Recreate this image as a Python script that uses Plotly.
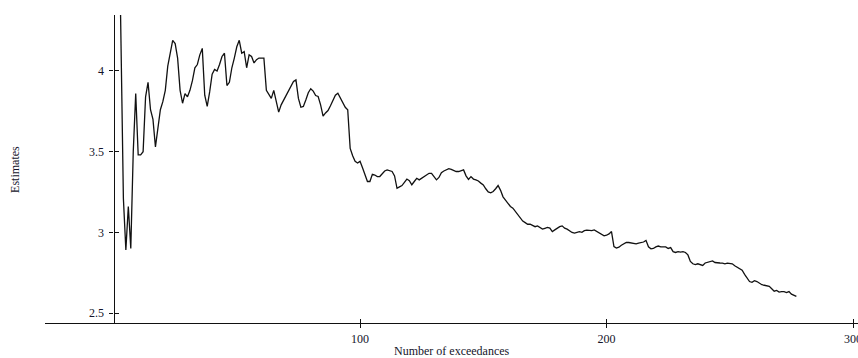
import plotly.graph_objects as go

# Hill-type estimates vs number of exceedances
k_values = list(range(2, 278))
estimates = [
    5.2, 4.17, 3.21, 2.89, 3.16, 2.90, 3.50, 3.86, 3.48,            # 2-10
    3.48, 3.50, 3.84, 3.93, 3.76, 3.70, 3.53, 3.66, 3.76, 3.81,      # 11-20
    3.88, 4.03, 4.10, 4.19, 4.17, 4.08, 3.88, 3.80, 3.86, 3.84,      # 21-30
    3.88, 3.94, 4.02, 4.04, 4.10, 4.14, 3.85, 3.78, 3.87, 3.98,      # 31-40
    4.01, 4.00, 4.04, 4.09, 4.11, 3.91, 3.93, 4.02, 4.08, 4.15,      # 41-50
    4.19, 4.11, 4.12, 4.02, 4.10, 4.09, 4.05, 4.07, 4.08, 4.08,      # 51-60
    4.08, 3.88, 3.85, 3.83, 3.88, 3.82, 3.745, 3.79, 3.82, 3.85,     # 61-70
    3.88, 3.91, 3.935, 3.945, 3.83, 3.775, 3.78, 3.82, 3.865, 3.89,  # 71-80
    3.875, 3.848, 3.842, 3.79, 3.72, 3.74, 3.755, 3.785, 3.815, 3.85,  # 81-90
    3.862, 3.835, 3.805, 3.775, 3.76, 3.52, 3.475, 3.44, 3.43, 3.44,   # 91-100
    3.40, 3.35, 3.315, 3.315, 3.36, 3.355, 3.345, 3.346, 3.36, 3.38,   # 101-110
    3.387, 3.38, 3.377, 3.35, 3.273, 3.282, 3.29, 3.31, 3.33, 3.32,    # 111-120
    3.295, 3.315, 3.335, 3.325, 3.335, 3.345, 3.355, 3.366, 3.366, 3.346,  # 121-130
    3.325, 3.34, 3.37, 3.38, 3.387, 3.395, 3.39, 3.385, 3.377, 3.377,  # 131-140
    3.38, 3.387, 3.35, 3.328, 3.345, 3.33, 3.325, 3.318, 3.305, 3.294, # 141-150
    3.27, 3.25, 3.245, 3.253, 3.27, 3.29, 3.26, 3.22, 3.20, 3.18,      # 151-160
    3.16, 3.15, 3.13, 3.11, 3.09, 3.07, 3.06, 3.05, 3.05, 3.04,        # 161-170
    3.035, 3.04, 3.03, 3.02, 3.025, 3.03, 3.026, 3.005, 3.015, 3.028,  # 171-180
    3.035, 3.04, 3.026, 3.02, 3.01, 2.999, 2.995, 3.0, 3.004, 3.0,     # 181-190
    3.01, 3.014, 3.013, 3.011, 3.015, 3.005, 2.995, 2.985, 2.978, 2.982,  # 191-200
    2.99, 3.005, 2.912, 2.902, 2.908, 2.92, 2.93, 2.937, 2.937, 2.935,    # 201-210
    2.929, 2.929, 2.933, 2.935, 2.94, 2.95, 2.91, 2.898, 2.90, 2.91,      # 211-220
    2.915, 2.91, 2.91, 2.91, 2.90, 2.905, 2.88, 2.875, 2.88, 2.877,       # 221-230
    2.88, 2.875, 2.86, 2.82, 2.805, 2.80, 2.805, 2.80, 2.795, 2.81,       # 231-240
    2.813, 2.82, 2.823, 2.813, 2.81, 2.81, 2.809, 2.805, 2.809, 2.807,    # 241-250
    2.805, 2.793, 2.785, 2.775, 2.765, 2.74, 2.715, 2.695, 2.69, 2.70,    # 251-260
    2.695, 2.685, 2.675, 2.672, 2.67, 2.665, 2.65, 2.635, 2.64, 2.63,     # 261-270
    2.632, 2.632, 2.627, 2.633, 2.617, 2.61, 2.603,                       # 271-277
]

x_tick_vals = [100, 200, 300]
x_tick_text = ["100", "200", "300"]
y_tick_vals = [2.5, 3, 3.5, 4]
y_tick_text = ["2.5", "3", "3.5", "4"]

x_range = [-27.8, 302.0]
y_range = [2.438, 4.347]
yaxis_pos = 27.8 / (27.8 + 302.0)

font_family = "Liberation Serif, Times New Roman, serif"
label_color = "#14142a"

fig = go.Figure()
fig.add_trace(go.Scatter(
    x=k_values, y=estimates, mode="lines",
    line=dict(color="#111111", width=1.3),
    hoverinfo="x+y", showlegend=False,
))
# empty trace to host the overlay axes (inner half of the crossing ticks)
fig.add_trace(go.Scatter(x=[], y=[], xaxis="x2", yaxis="y2", showlegend=False))

common_font = dict(family=font_family, size=12, color=label_color)

fig.update_layout(
    width=858, height=358,
    margin=dict(l=45, r=0, t=15, b=35),
    paper_bgcolor="white", plot_bgcolor="white",
    font=common_font,
    xaxis=dict(
        range=x_range, showgrid=False, zeroline=False, automargin=False,
        showline=True, linecolor="#111111", linewidth=1.3,
        tickmode="array", tickvals=x_tick_vals, ticktext=x_tick_text,
        ticks="outside", ticklen=4, tickwidth=1.3, tickcolor="#111111",
        ticklabelstandoff=0, ticklabeloverflow="allow", tickfont=common_font,
    ),
    yaxis=dict(
        range=y_range, showgrid=False, zeroline=False, automargin=False,
        anchor="free", position=yaxis_pos,
        showline=True, linecolor="#111111", linewidth=1.3,
        tickmode="array", tickvals=y_tick_vals, ticktext=y_tick_text,
        ticks="outside", ticklen=4, tickwidth=1.3, tickcolor="#111111",
        ticklabelstandoff=3, ticklabeloverflow="allow", tickfont=common_font,
    ),
    xaxis2=dict(
        overlaying="x", matches="x", anchor="y2", side="bottom",
        automargin=False,
        range=x_range, showgrid=False, zeroline=False, showline=False,
        tickmode="array", tickvals=x_tick_vals,
        ticks="inside", ticklen=4, tickwidth=1.3, tickcolor="#111111",
        showticklabels=False,
    ),
    yaxis2=dict(
        overlaying="y", matches="y", anchor="free", position=yaxis_pos,
        automargin=False,
        range=y_range, showgrid=False, zeroline=False, showline=False,
        tickmode="array", tickvals=y_tick_vals,
        ticks="inside", ticklen=4, tickwidth=1.3, tickcolor="#111111",
        showticklabels=False,
    ),
    annotations=[
        dict(text="Number of exceedances", xref="paper", yref="paper",
             x=0.5, y=-0.091, xanchor="center", yanchor="middle",
             showarrow=False, font=common_font),
        dict(text="Estimates", xref="paper", yref="paper",
             x=-0.037, y=0.5, xanchor="center", yanchor="middle",
             textangle=-90, showarrow=False, font=common_font),
    ],
)

# remove the default page margin so the 858x358 figure fills the window exactly
fig.write_html(
    "out.html",
    config={"displayModeBar": False},
    post_script="document.body.style.margin='0';document.body.style.overflow='hidden';",
)
